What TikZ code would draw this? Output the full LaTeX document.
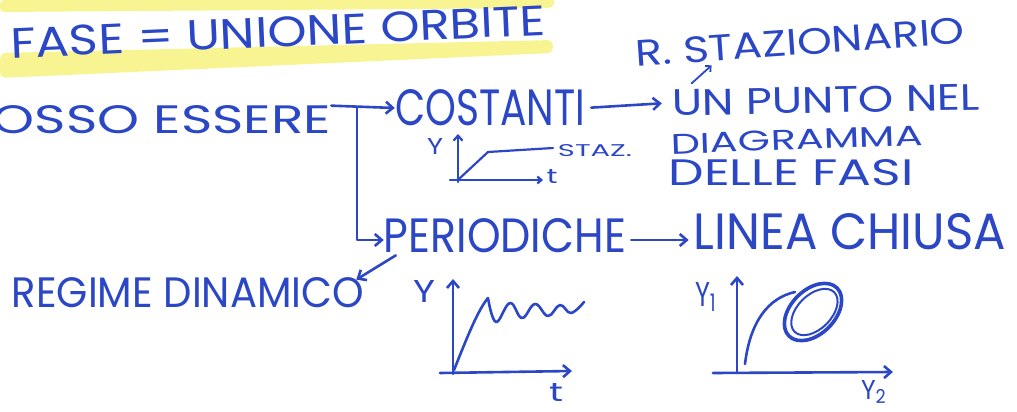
\documentclass[tikz,border=0pt]{standalone}
\usepackage{fontspec}
\setmainfont{Poppins}
\usepackage{graphicx}
\usetikzlibrary{arrows.meta}
\definecolor{inkblue}{HTML}{2B47C6}
\definecolor{hilite}{HTML}{F6F27E}
\newcommand{\handtext}[3]{\resizebox{#1pt}{#2pt}{#3}}
\tikzset{
    hand/.style={text=inkblue, inner sep=0pt},
    pen/.style={draw=inkblue, line width=2.6pt, line cap=round, line join=round},
    inkarrow/.style={pen, -{Straight Barb[length=7pt,width=12pt]}}
}

\begin{document}
\begin{tikzpicture}[x=1pt,y=-1pt]
\useasboundingbox (0,0) rectangle (1017,412);

% highlighter strokes
\fill[hilite, opacity=0.85, rounded corners=4pt] (0,0) -- (556,0) -- (552,8) -- (0,12) -- cycle;
\fill[hilite, opacity=0.85, rounded corners=6pt] (0,53) -- (553,40) -- (553,53) -- (0,78) -- cycle;

% title
\node[hand, rotate=2.5] (title) at (278,32) {\handtext{535}{30}{FASE = UNIONE ORBITE}};

% first row
\node[hand] (possoessere) at (162,120) {\handtext{338}{28}{OSSO ESSERE}};
\node[hand] (costanti) at (490,108) {\handtext{190}{36}{COSTANTI}};
\node[hand, rotate=1] (unpunto) at (826,100) {\handtext{308}{26}{UN PUNTO NEL}};
\node[hand, rotate=2] (diagramma) at (797,140) {\handtext{252}{20}{DIAGRAMMA}};
\node[hand] (dellefasi) at (791,173) {\handtext{245}{26}{DELLE FASI}};
\node[hand, rotate=4] (stazionario) at (800,42) {\handtext{330}{26}{R. STAZIONARIO}};

% second row
\node[hand] (periodiche) at (505,236) {\handtext{242}{34}{PERIODICHE}};
\node[hand] (lineachiusa) at (850,232) {\handtext{312}{36}{LINEA CHIUSA}};
\node[hand] (regime) at (188,293) {\handtext{352}{30}{REGIME DINAMICO}};

% connectors
\coordinate (fork) at (357,107);
\draw[inkarrow] (possoessere.north east) -- (costanti.west);
\draw[inkarrow] (fork) |- ([yshift=-4pt]periodiche.west);
\draw[inkarrow, shorten <=6pt, shorten >=10pt] (costanti.east) -- (unpunto.west);
\draw[inkarrow, -{Straight Barb[length=4pt,width=8pt]}, line width=1.8pt]
    ([shift={(20,-6)}]unpunto.north west) -- ++(20,-18);
\draw[inkarrow, shorten <=5pt, shorten >=5pt] ([yshift=-4pt]periodiche.east) -- ([yshift=-8pt]lineachiusa.west);
\draw[inkarrow] ([shift={(12,2)}]periodiche.south west) -- ([shift={(-8,2)}]regime.north east);

% small graph: stationary
\node[hand] (ya) at (435,146) {\handtext{16}{16}{Y}};
\node[hand] (ta) at (552,176) {\handtext{11}{14}{t}};
\node[hand] (staz) at (595,151) {\handtext{74}{12}{STAZ.}};
\draw[inkarrow, line width=2.2pt, -{Straight Barb[length=5pt,width=9pt]}] (458,182) -- (458,134);
\draw[inkarrow, line width=2.2pt, -{Straight Barb[length=4pt,width=7pt]}] (450,180) -- (543,180);
\draw[pen, line width=2.2pt] (460,178) -- (488,152) -- (553,148);

% graph: periodic in time
\node[hand] (yb) at (424,291) {\handtext{22}{22}{Y}};
\node[hand] (tb) at (556,392) {\handtext{14}{18}{t}};
\draw[inkarrow] (453,374) -- (453,279);
\draw[inkarrow] (440,373) -- (572,371);
\draw[pen] (454,370) .. controls (468,335) and (478,310) .. (488,298);
\draw[pen] plot[smooth, tension=0.7] coordinates {(488,298) (496,322) (510,303) (522,318) (535,304) (548,316) (560,305) (571,313) (584,302)};

% graph: phase plane
\node[hand] (yc) at (706,297) {\handtext{22}{24}{Y\textsubscript{1}}};
\node[hand] (yd) at (874,392) {\handtext{26}{19}{Y\textsubscript{2}}};
\draw[inkarrow] (737,373) -- (737,276);
\draw[inkarrow] (713,373) -- (893,372);
\draw[pen] (745,364) .. controls (750,322) and (768,298) .. (795,292);
\draw[pen, line width=3.6pt, rotate around={45:(813,312)}] (813,312) ellipse [x radius=34, y radius=22];
\draw[pen, line width=2pt, rotate around={45:(813,312)}] (814,313) ellipse [x radius=28, y radius=17];

\end{tikzpicture}
\end{document}
